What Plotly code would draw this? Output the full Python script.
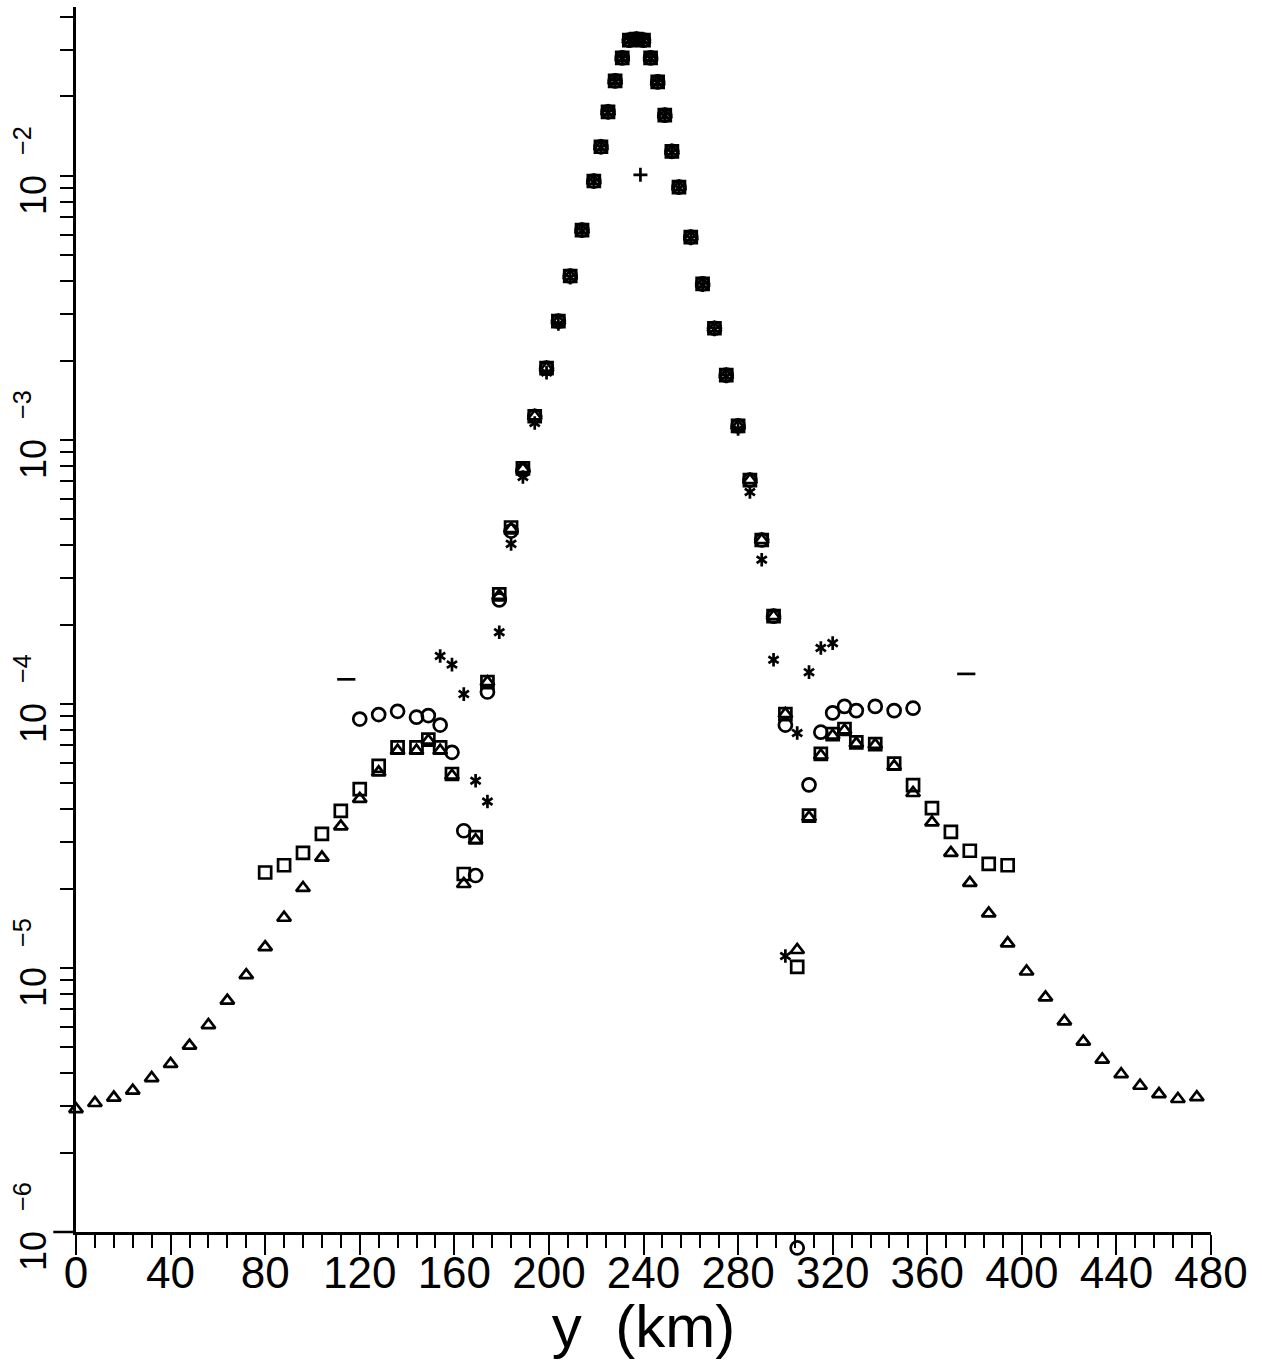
import math
import plotly.graph_objects as go

# ---------------- data ----------------
tri_x = [0, 8, 16, 24, 32, 40, 48, 56, 64, 72, 80, 88, 96, 104, 112, 120, 128, 136, 144,
         149, 154, 159, 164, 169, 174, 179, 184, 189, 194, 199, 204, 209, 214, 219,
         222, 225, 228, 231, 234, 237, 240, 243, 246, 249, 252,
         255, 260, 265, 270, 275, 280, 285, 290, 295, 300, 305, 310, 315, 320, 325, 330,
         338, 346, 354, 362, 370, 378, 386, 394, 402, 410, 418, 426, 434, 442, 450, 458, 466, 474]
tri_y = [2.92e-6, 3.08e-6, 3.23e-6, 3.43e-6, 3.83e-6, 4.33e-6, 5.08e-6, 6.08e-6, 7.52e-6, 9.40e-6,
         1.20e-5, 1.55e-5, 2.01e-5, 2.62e-5, 3.44e-5, 4.37e-5, 5.51e-5, 6.65e-5, 6.65e-5,
         7.26e-5, 6.65e-5, 5.35e-5, 2.08e-5, 3.05e-5, 1.21e-4, 2.57e-4, 4.60e-4, 7.76e-4,
         1.23e-3, 1.87e-3, 2.82e-3, 4.18e-3, 6.24e-3, 9.57e-3,
         1.29e-2, 1.75e-2, 2.29e-2, 2.80e-2, 3.27e-2, 3.30e-2, 3.27e-2, 2.80e-2, 2.27e-2, 1.70e-2, 1.24e-2,
         9.08e-3, 5.87e-3, 3.90e-3, 2.65e-3, 1.76e-3, 1.13e-3, 7.05e-4, 4.18e-4, 2.15e-4,
         9.16e-5, 1.17e-5, 3.72e-5, 6.38e-5, 7.59e-5, 7.94e-5, 7.08e-5,
         7.00e-5, 5.81e-5, 4.60e-5, 3.56e-5, 2.73e-5, 2.10e-5, 1.61e-5, 1.24e-5,
         9.70e-6, 7.74e-6, 6.28e-6, 5.26e-6, 4.50e-6, 3.96e-6, 3.58e-6, 3.33e-6, 3.19e-6, 3.24e-6]

sq_x = [80, 88, 96, 104, 112, 120, 128, 136, 144,
        149, 154, 159, 164, 169, 174, 179, 184, 189, 194, 199, 204, 209, 214, 219,
        222, 225, 228, 231, 234, 237, 240, 243, 246, 249, 252,
        255, 260, 265, 270, 275, 280, 285, 290, 295, 300, 305, 310, 315, 320, 325, 330,
        338, 346, 354, 362, 370, 378, 386, 394]
sq_y = [2.30e-5, 2.45e-5, 2.73e-5, 3.22e-5, 3.94e-5, 4.76e-5, 5.83e-5, 6.85e-5, 6.85e-5,
        7.33e-5, 6.85e-5, 5.43e-5, 2.27e-5, 3.13e-5, 1.21e-4, 2.60e-4, 4.66e-4, 7.80e-4,
        1.23e-3, 1.87e-3, 2.82e-3, 4.18e-3, 6.24e-3, 9.57e-3,
        1.29e-2, 1.75e-2, 2.29e-2, 2.80e-2, 3.27e-2, 3.30e-2, 3.27e-2, 2.80e-2, 2.27e-2, 1.70e-2, 1.24e-2,
        9.08e-3, 5.87e-3, 3.90e-3, 2.65e-3, 1.76e-3, 1.13e-3, 7.05e-4, 4.18e-4, 2.15e-4,
        9.16e-5, 1.01e-5, 3.78e-5, 6.47e-5, 7.69e-5, 8.04e-5, 7.16e-5,
        7.05e-5, 5.94e-5, 4.93e-5, 4.03e-5, 3.28e-5, 2.78e-5, 2.48e-5, 2.45e-5]

circ_x = [120, 128, 136, 144, 149, 154, 159, 164, 169, 174, 179, 184, 189, 194, 199, 204, 209, 214, 219,
          222, 225, 228, 231, 234, 237, 240, 243, 246, 249, 252,
          255, 260, 265, 270, 275, 280, 285, 290, 295, 300, 305, 310, 315, 320, 325, 330,
          338, 346, 354]
circ_y = [8.77e-5, 9.12e-5, 9.38e-5, 8.91e-5, 9.04e-5, 8.32e-5, 6.56e-5, 3.31e-5, 2.24e-5, 1.11e-4,
          2.48e-4, 4.52e-4, 7.67e-4, 1.23e-3, 1.87e-3, 2.82e-3, 4.18e-3, 6.24e-3, 9.57e-3,
          1.29e-2, 1.75e-2, 2.29e-2, 2.80e-2, 3.27e-2, 3.30e-2, 3.27e-2, 2.80e-2, 2.27e-2, 1.70e-2, 1.24e-2,
          9.08e-3, 5.87e-3, 3.90e-3, 2.65e-3, 1.76e-3, 1.13e-3, 7.05e-4, 4.18e-4, 2.15e-4,
          8.32e-5, 8.7e-7, 4.94e-5, 7.82e-5, 9.25e-5, 9.79e-5, 9.44e-5,
          9.79e-5, 9.44e-5, 9.64e-5]

ast_x = [154, 159, 164, 169, 174, 179, 184, 189, 194, 199, 204, 209, 214, 219,
         222, 225, 228, 231, 234, 237, 240, 243, 246, 249, 252,
         255, 260, 265, 270, 275, 280, 285, 290, 295, 300, 305, 310, 315, 320]
ast_y = [1.52e-4, 1.41e-4, 1.09e-4, 5.12e-5, 4.27e-5, 1.87e-4, 4.04e-4, 7.24e-4, 1.16e-3, 1.80e-3,
         2.75e-3, 4.12e-3, 6.20e-3, 9.50e-3,
         1.28e-2, 1.74e-2, 2.28e-2, 2.79e-2, 3.26e-2, 3.29e-2, 3.26e-2, 2.79e-2, 2.26e-2, 1.69e-2, 1.23e-2,
         9.00e-3, 5.80e-3, 3.86e-3, 2.62e-3, 1.74e-3, 1.10e-3, 6.35e-4, 3.52e-4, 1.47e-4,
         1.11e-5, 7.76e-5, 1.32e-4, 1.63e-4, 1.70e-4]

plus_x = [238.7]
plus_y = [1.01e-2]

dash_x = [114.3, 376.5]
dash_y = [1.24e-4, 1.30e-4]

x_ticks = [0, 40, 80, 120, 160, 200, 240, 280, 320, 360, 400, 440, 480]
y_decades = [1e-6, 1e-5, 1e-4, 1e-3, 1e-2]
y_major_text = ["10&nbsp;&nbsp;<sup>−6</sup>", "10&nbsp;&nbsp;<sup>−5</sup>", "10&nbsp;&nbsp;<sup>−4</sup>",
                "10&nbsp;&nbsp;<sup>−3</sup>", "10&nbsp;&nbsp;<sup>−2</sup>"]

X_RANGE = [0, 480]
Y_RANGE = [-6, -1.36]   # log10

# ---------------- figure ----------------
FONT = "Liberation Sans, Arial, sans-serif"
LW = 2.7
fig = go.Figure()


def inside(v):
    lv = math.log10(v)
    return Y_RANGE[0] <= lv <= Y_RANGE[1]


def add(x, y, symbol, size):
    xs = [a for a, b in zip(x, y) if inside(b)]
    ys = [b for b in y if inside(b)]
    fig.add_trace(go.Scatter(
        x=xs, y=ys, mode="markers", cliponaxis=False, hoverinfo="skip",
        marker=dict(symbol=symbol, size=size, color="black",
                    line=dict(color="black", width=LW))))
    # points that fall below the axis range are still drawn (as in the original)
    for a, b in zip(x, y):
        if not inside(b):
            px = (a - X_RANGE[0]) / (X_RANGE[1] - X_RANGE[0])
            py = (math.log10(b) - Y_RANGE[0]) / (Y_RANGE[1] - Y_RANGE[0])
            fig.add_shape(type="circle", xref="paper", yref="paper",
                          xsizemode="pixel", ysizemode="pixel", xanchor=px, yanchor=py,
                          x0=-size / 2, x1=size / 2, y0=-size / 2, y1=size / 2,
                          line=dict(color="black", width=LW))


add(tri_x, tri_y, "triangle-up-open", 12)
add(sq_x, sq_y, "square-open", 12)
add(circ_x, circ_y, "circle-open", 13)
add(ast_x, ast_y, "y-up-open", 8.5)
add(ast_x, ast_y, "y-down-open", 8.5)
add(plus_x, plus_y, "cross-thin-open", 10)
add(dash_x, dash_y, "line-ew-open", 13)

fig.update_layout(
    width=1262, height=1360,
    margin=dict(l=76, r=51, t=7, b=128, autoexpand=False),
    paper_bgcolor="white", plot_bgcolor="white",
    showlegend=False,
    font=dict(family=FONT, color="black"),
    xaxis=dict(
        range=X_RANGE, tickvals=x_ticks, ticks="outside", ticklen=20, tickwidth=2,
        tickcolor="black", showline=True, linewidth=2.5, linecolor="black",
        showgrid=False, zeroline=False, tickfont=dict(size=44, family=FONT),
        automargin=False, ticklabelstandoff=-20,
        minor=dict(dtick=8, tick0=0, ticks="outside", ticklen=13, tickwidth=2,
                   tickcolor="black", showgrid=False),
        title=dict(text="y&nbsp;&nbsp;(km)", font=dict(size=60, family=FONT), standoff=12),
    ),
    yaxis=dict(
        type="log", range=Y_RANGE, tickvals=y_decades, ticktext=y_major_text,
        tickangle=-90, ticks="outside", ticklen=13, tickwidth=2, tickcolor="black",
        showline=True, linewidth=2.5, linecolor="black", showgrid=False, zeroline=False,
        tickfont=dict(size=36, family=FONT), automargin=False,
        minor=dict(dtick="D1", ticks="outside", ticklen=13, tickwidth=2,
                   tickcolor="black", showgrid=False),
    ),
)

# x-axis line continues a little to the left of the y-axis
fig.add_shape(type="line", xref="paper", yref="paper", x0=-0.02, x1=0, y0=0, y1=0,
              line=dict(color="black", width=2.5))

fig.write_html("out.html")
